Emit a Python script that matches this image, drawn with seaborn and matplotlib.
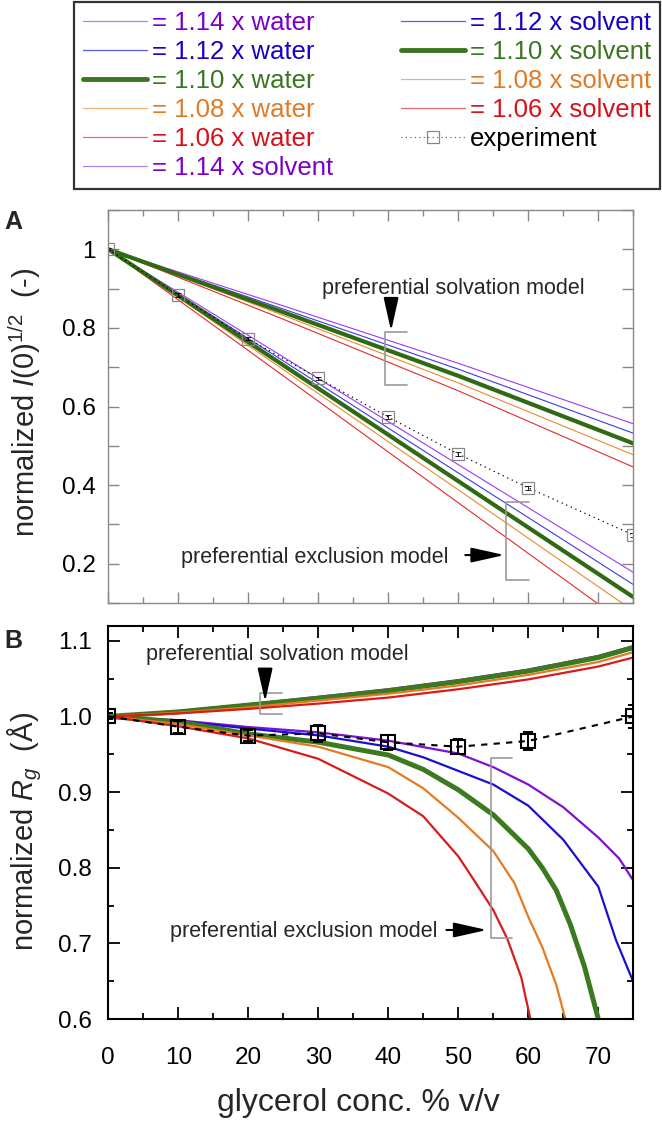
import numpy as np
import pandas as pd
import matplotlib
matplotlib.use("Agg")
import matplotlib.pyplot as plt
import seaborn as sns
from matplotlib.lines import Line2D
from matplotlib.ticker import MultipleLocator, FuncFormatter

# ---------------- data ----------------
factors = ["1.14", "1.12", "1.10", "1.08", "1.06"]

# Panel A : normalized I(0)^1/2
xA = [0, 25, 50, 75]
a_solv_114 = [1.0, 0.856, 0.710, 0.556]
a_solv_112 = [1.0, 0.848, 0.695, 0.532]
a_solv_110 = [1.0, 0.840, 0.678, 0.506]
a_solv_108 = [1.0, 0.832, 0.660, 0.477]
a_solv_106 = [1.0, 0.822, 0.640, 0.446]
a_water_114 = [1.0, 0.726, 0.452, 0.178]
a_water_112 = [1.0, 0.716, 0.431, 0.147]
a_water_110 = [1.0, 0.705, 0.410, 0.115]
a_water_108 = [1.0, 0.694, 0.388, 0.080]
a_water_106 = [1.0, 0.678, 0.355, 0.033]

exp_x = [0, 10, 20, 30, 40, 50, 60, 75]
exp_A = [1.0, 0.883, 0.772, 0.672, 0.573, 0.479, 0.393, 0.273]
exp_A_err = [0.003, 0.005, 0.004, 0.004, 0.005, 0.006, 0.005, 0.006]

# Panel B : normalized Rg
xB_solv = [0, 10, 20, 30, 40, 50, 60, 70, 75]
b_solv_114 = [1.0, 1.007, 1.016, 1.026, 1.036, 1.048, 1.062, 1.080, 1.093]
b_solv_112 = [1.0, 1.007, 1.016, 1.025, 1.035, 1.047, 1.061, 1.079, 1.092]
b_solv_110 = [1.0, 1.006, 1.015, 1.024, 1.034, 1.046, 1.060, 1.078, 1.091]
b_solv_108 = [1.0, 1.005, 1.012, 1.021, 1.030, 1.041, 1.055, 1.072, 1.085]
b_solv_106 = [1.0, 1.004, 1.010, 1.017, 1.025, 1.036, 1.049, 1.066, 1.078]

b_water_114_x = [0, 10, 20, 30, 40, 50, 55, 60, 65, 70, 73, 75]
b_water_114 = [1.0, 0.995, 0.986, 0.979, 0.968, 0.951, 0.933, 0.910, 0.880, 0.840, 0.812, 0.783]
b_water_112_x = [0, 10, 20, 30, 40, 45, 50, 55, 60, 65, 70, 72.5, 75]
b_water_112 = [1.0, 0.994, 0.984, 0.975, 0.960, 0.946, 0.928, 0.910, 0.882, 0.837, 0.775, 0.705, 0.649]
b_water_110_x = [0, 10, 20, 30, 40, 45, 50, 55, 60, 62, 64, 66, 68, 70]
b_water_110 = [1.0, 0.993, 0.977, 0.966, 0.949, 0.930, 0.903, 0.870, 0.825, 0.800, 0.770, 0.725, 0.670, 0.600]
b_water_108_x = [0, 10, 20, 30, 40, 45, 50, 55, 58, 60, 62, 64, 65.3]
b_water_108 = [1.0, 0.990, 0.975, 0.960, 0.933, 0.905, 0.866, 0.822, 0.780, 0.735, 0.695, 0.645, 0.600]
b_water_106_x = [0, 10, 20, 30, 40, 45, 50, 52, 55, 57, 59, 60.3]
b_water_106 = [1.0, 0.987, 0.971, 0.944, 0.898, 0.868, 0.815, 0.787, 0.744, 0.706, 0.655, 0.600]

exp_B = [1.0, 0.9865, 0.9746, 0.9777, 0.9658, 0.960, 0.9676, 1.0]
exp_B_err = [0.004, 0.008, 0.007, 0.0115, 0.010, 0.010, 0.012, 0.015]

x_ticks = [0, 10, 20, 30, 40, 50, 60, 70]

# ---------------- style ----------------
sns.set_theme(style="white")
plt.rcParams["font.family"] = ["Liberation Sans", "DejaVu Sans"]
plt.rcParams["mathtext.fontset"] = "custom"
plt.rcParams["mathtext.rm"] = "Liberation Sans"
plt.rcParams["mathtext.it"] = "Liberation Sans:italic"

colA = ["#9a3cf0", "#3a3ae8", "#2f6a12", "#ea8a30", "#e22a2a"]
colB = ["#8010d0", "#1a10d0", "#3c7a20", "#e27c22", "#d81c1c"]
txtcol = ["#7a00c8", "#1800c8", "#3a7520", "#e07a25", "#d8101a"]
legcol = ["#b77ef0", "#5a5ae8", "#3a7520", "#f0b07a", "#ea6a6a"]

fig = plt.figure(figsize=(6.62, 11.21), dpi=100)
W, H = 662.0, 1121.0
axA = fig.add_axes([108.3 / W, 1 - 603 / H, 525 / W, 393 / H])
axB = fig.add_axes([108.3 / W, 1 - 1019 / H, 525 / W, 393.3 / H])

ARROW = dict(arrowstyle="-|>,head_length=1.7,head_width=0.38", color="black",
             lw=1.5, shrinkA=0, shrinkB=0, mutation_scale=12)

# ---------------- panel A ----------------
a_solv = [a_solv_114, a_solv_112, a_solv_110, a_solv_108, a_solv_106]
a_water = [a_water_114, a_water_112, a_water_110, a_water_108, a_water_106]
order = [4, 3, 1, 0, 2]
for i in order:
    lw = 3.0 if factors[i] == "1.10" else 0.8
    sns.lineplot(x=xA, y=a_solv[i], ax=axA, color=colA[i], lw=lw, legend=False, estimator=None)
    sns.lineplot(x=xA, y=a_water[i], ax=axA, color=colA[i], lw=lw, legend=False, estimator=None)

sns.lineplot(x=exp_x, y=exp_A, ax=axA, color="black", lw=0.9, linestyle=(0, (1, 3)),
             marker="s", markersize=9, markerfacecolor="none", markeredgecolor="#888888",
             markeredgewidth=0.9, legend=False, estimator=None)
axA.errorbar(exp_x, exp_A, yerr=exp_A_err, fmt="none", ecolor="black", elinewidth=0.6, capsize=2, capthick=0.6)

axA.set_xlim(0, 75)
axA.set_ylim(0.1, 1.1)
axA.xaxis.set_major_locator(MultipleLocator(10))
axA.xaxis.set_minor_locator(MultipleLocator(5))
axA.yaxis.set_major_locator(MultipleLocator(0.1))


def fmtA(v, pos):
    k = int(round(v * 10))
    if k == 10:
        return "1"
    if k in (2, 4, 6, 8):
        return f"{v:.1f}"
    return ""


axA.yaxis.set_major_formatter(FuncFormatter(fmtA))
axA.tick_params(which="both", direction="in", top=True, right=True, bottom=True, left=True,
                color="#888888", width=1.0, labelbottom=False, labelsize=17.5, labelcolor="black")
axA.tick_params(which="major", length=8, pad=9)
axA.tick_params(which="minor", length=4)
for s in axA.spines.values():
    s.set_color("#888888")
    s.set_linewidth(1.0)
axA.set_xlabel("")
axA.set_ylabel(r"normalized $\mathit{I}$(0)$^{1/2}$  (-)", fontsize=21, va="center")
axA.yaxis.set_label_coords(-0.159, 0.51)

# annotations A
axA.text(49.3, 0.9015, "preferential solvation model", fontsize=15.5, ha="center", va="center")
axA.annotate("", xy=(40.4, 0.792), xytext=(40.4, 0.874), arrowprops=ARROW)
axA.plot([42.6, 39.5, 39.5, 42.6], [0.790, 0.790, 0.654, 0.654], color="#999999", lw=1.2)

axA.text(29.5, 0.217, "preferential exclusion model", fontsize=15.5, ha="center", va="center")
axA.annotate("", xy=(56.6, 0.222), xytext=(51.0, 0.222), arrowprops=ARROW)
axA.plot([60.1, 56.8, 56.8, 60.1], [0.358, 0.358, 0.158, 0.158], color="#999999", lw=1.2)

# ---------------- panel B ----------------
b_solv = [b_solv_114, b_solv_112, b_solv_110, b_solv_108, b_solv_106]
b_water = [b_water_114, b_water_112, b_water_110, b_water_108, b_water_106]
b_water_x = [b_water_114_x, b_water_112_x, b_water_110_x, b_water_108_x, b_water_106_x]
for i in [0, 1, 2, 3, 4]:
    lw = 3.6 if factors[i] == "1.10" else 1.6
    sns.lineplot(x=xB_solv, y=b_solv[i], ax=axB, color=colB[i], lw=lw, legend=False, estimator=None)
    sns.lineplot(x=b_water_x[i], y=b_water[i], ax=axB, color=colB[i], lw=lw, legend=False, estimator=None)

sns.lineplot(x=exp_x, y=exp_B, ax=axB, color="black", lw=1.5, linestyle=(0, (3, 3)),
             marker="s", markersize=10, markerfacecolor="none", markeredgecolor="black",
             markeredgewidth=1.5, legend=False, estimator=None)
axB.errorbar(exp_x, exp_B, yerr=exp_B_err, fmt="none", ecolor="black", elinewidth=1.4,
             capsize=3.6, capthick=1.4)

axB.set_xlim(0, 75)
axB.set_ylim(0.6, 1.12)
axB.set_xticks(x_ticks)
axB.set_xticklabels([str(v) for v in x_ticks])
axB.xaxis.set_minor_locator(MultipleLocator(5))
axB.yaxis.set_major_locator(MultipleLocator(0.1))
axB.yaxis.set_minor_locator(MultipleLocator(0.05))
axB.yaxis.set_major_formatter(FuncFormatter(lambda v, p: f"{v:.1f}"))
axB.tick_params(which="both", direction="in", top=True, right=True, bottom=True, left=True,
                color="black", width=1.3, labelsize=17.5, labelcolor="black")
axB.tick_params(which="major", length=8.5)
axB.tick_params(which="minor", length=4.5)
axB.tick_params(axis="y", which="major", pad=12)
axB.tick_params(axis="x", which="major", pad=20)
for s in axB.spines.values():
    s.set_color("black")
    s.set_linewidth(1.5)
axB.set_xlabel("glycerol conc. % v/v", fontsize=23, va="center")
axB.xaxis.set_label_coords(0.476, -0.214)
axB.set_ylabel(r"normalized $\mathit{R}_{\mathit{g}}$  (Å)", fontsize=21, va="center")
axB.yaxis.set_label_coords(-0.159, 0.477)

axB.text(24.1, 1.0813, "preferential solvation model", fontsize=15.5, ha="center", va="center")
axB.annotate("", xy=(22.4, 1.0195), xytext=(22.4, 1.0565), arrowprops=ARROW)
axB.plot([24.8, 21.6, 21.6, 24.8], [1.0314, 1.0314, 1.0033, 1.0033], color="#999999", lw=1.2)

axB.text(27.9, 0.7155, "preferential exclusion model", fontsize=15.5, ha="center", va="center")
axB.annotate("", xy=(54.1, 0.7177), xytext=(48.3, 0.7177), arrowprops=ARROW)
axB.plot([57.7, 54.7, 54.7, 57.7], [0.9447, 0.9447, 0.7071, 0.7071], color="#999999", lw=1.2)

# panel letters
fig.text(4 / W, 1 - 222 / H, "A", fontsize=18, fontweight="bold", va="center", ha="left")
fig.text(4 / W, 1 - 641 / H, "B", fontsize=18, fontweight="bold", va="center", ha="left")

# ---------------- legend ----------------
handles, labels, lcols = [], [], []
for i, f in enumerate(factors):
    lw = 3.5 if f == "1.10" else 0.9
    handles.append(Line2D([], [], color=legcol[i], lw=lw))
    labels.append(f"= {f} x water")
    lcols.append(txtcol[i])
for i, f in enumerate(factors):
    lw = 3.5 if f == "1.10" else 0.9
    handles.append(Line2D([], [], color=legcol[i], lw=lw))
    labels.append(f"= {f} x solvent")
    lcols.append(txtcol[i])
handles.append(Line2D([], [], color="#555555", lw=0.8, linestyle=(0, (1, 3)), marker="s",
                      markersize=8, markerfacecolor="none", markeredgecolor="#888888",
                      markeredgewidth=0.9))
labels.append("experiment")
lcols.append("black")

leg = fig.legend(handles, labels, ncol=2, loc="upper left",
                 bbox_to_anchor=(74 / W, 1 - 188 / H, 586 / W, 186 / H), mode="expand",
                 fontsize=18.5, handlelength=2.5, handletextpad=0.2, labelspacing=0.2,
                 borderpad=0.34, columnspacing=1.5, frameon=True, fancybox=False,
                 edgecolor="black", labelcolor=lcols, borderaxespad=0)
leg.get_frame().set_linewidth(1.6)

fig.savefig("out.png", dpi=100)
